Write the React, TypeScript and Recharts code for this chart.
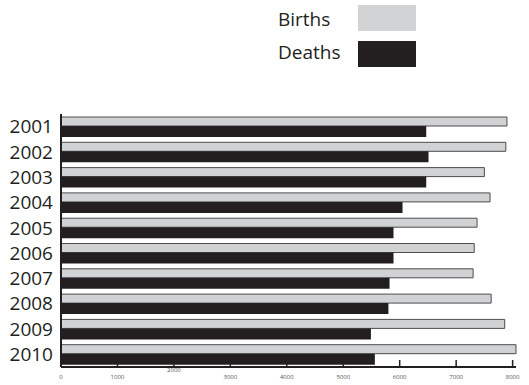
import { BarChart, Bar, XAxis, YAxis } from "recharts";

const years = ["2001", "2002", "2003", "2004", "2005", "2006", "2007", "2008", "2009", "2010"];
const births = [7900, 7880, 7500, 7600, 7370, 7320, 7300, 7620, 7860, 8060];
const deaths = [6470, 6510, 6470, 6050, 5890, 5890, 5820, 5800, 5490, 5560];
const xTicks = [0, 1000, 2000, 3000, 4000, 5000, 6000, 7000, 8000];

const INK = "#231f20";
const LIGHT = "#d1d2d4";
const FONT = "'Open Sans', 'Liberation Sans', sans-serif";

const data = years.map((year, i) => ({ year, births: births[i], deaths: deaths[i] }));

// ticks point up into the plot, "2000" label sits a bit higher like the original
function XTick(props: any) {
  const { x, y, payload } = props;
  const raised = payload.value === 2000;
  return (
    <g>
      {payload.value !== 0 && (
        <line x1={x} y1={y} x2={x} y2={y - 7} stroke={INK} strokeWidth={1.5} />
      )}
      <text
        x={x}
        y={raised ? y + 5 : y + 12}
        textAnchor="middle"
        fontSize={6}
        fill="#555"
        fontFamily={FONT}
      >
        {payload.value}
      </text>
    </g>
  );
}

function LegendBox() {
  const text = { position: "absolute" as const, fontSize: 19, color: INK, fontFamily: FONT, lineHeight: "20px" };
  return (
    <div style={{ position: "absolute", left: 0, top: 0, width: 529, height: 70 }}>
      <span style={{ ...text, left: 278, top: 9 }}>Births</span>
      <div style={{ position: "absolute", left: 358, top: 5, width: 58, height: 26, background: LIGHT }} />
      <span style={{ ...text, left: 278, top: 42 }}>Deaths</span>
      <div style={{ position: "absolute", left: 358, top: 41, width: 58, height: 26, background: INK }} />
    </div>
  );
}

export default function App() {
  return (
    <div style={{ position: "absolute", left: 0, top: 0, width: 529, height: 385, background: "#fff" }}>
      <BarChart
        width={529}
        height={385}
        data={data}
        layout="vertical"
        margin={{ top: 114, right: 13, bottom: 0, left: 0 }}
        barGap={0}
        barCategoryGap={0}
      >
        <XAxis
          type="number"
          domain={[0, 8000]}
          ticks={xTicks}
          height={18}
          tickSize={0}
          tickMargin={0}
          tickLine={false}
          axisLine={{ stroke: INK, strokeWidth: 2 }}
          tick={<XTick />}
        />
        <YAxis
          type="category"
          dataKey="year"
          width={61}
          interval={0}
          tickLine={false}
          axisLine={{ stroke: INK, strokeWidth: 2 }}
          tick={{ fontSize: 19, fill: INK, fontFamily: FONT }}
        />
        <Bar
          dataKey="births"
          name="Births"
          fill={LIGHT}
          stroke="#4d4d4f"
          strokeWidth={1}
          barSize={9}
          isAnimationActive={false}
        />
        <Bar
          dataKey="deaths"
          name="Deaths"
          fill={INK}
          barSize={11}
          isAnimationActive={false}
        />
      </BarChart>
      <LegendBox />
    </div>
  );
}
